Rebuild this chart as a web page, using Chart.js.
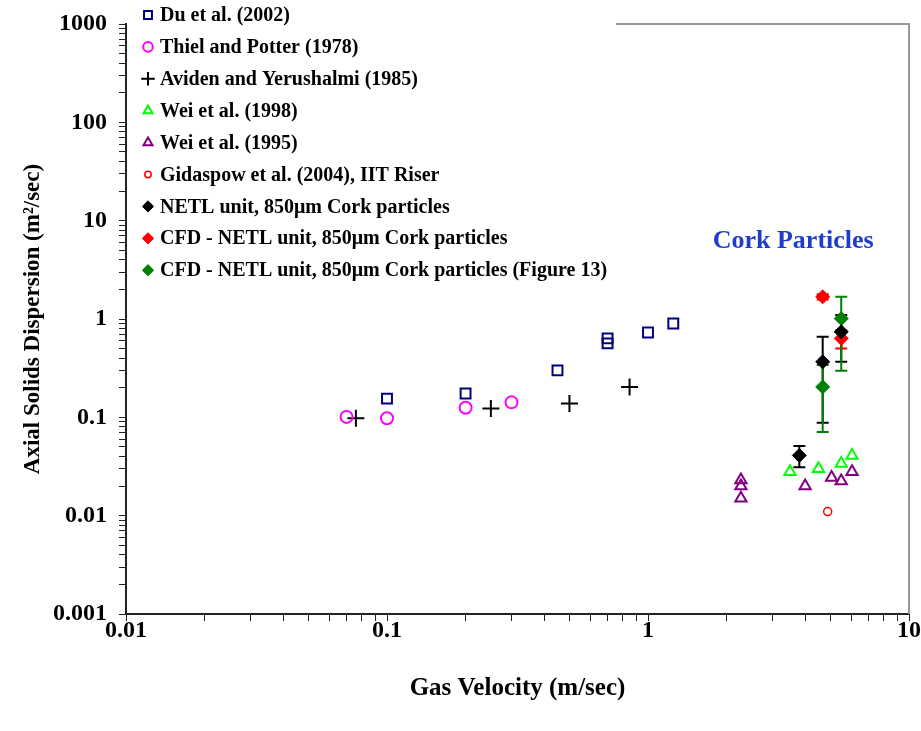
<!DOCTYPE html>
<html>
<head>
<meta charset="utf-8">
<title>Axial Solids Dispersion</title>
<script src="https://cdn.jsdelivr.net/npm/chart.js@4/dist/chart.umd.min.js"></script>
<style>
  html, body { margin: 0; padding: 0; background: #fff; }
</style>
</head>
<body>
<canvas id="myChart" width="921" height="731"></canvas>
<script>
/* data */
const duX = [0.1, 0.2, 0.45, 0.7, 0.7, 1.0, 1.25];
const duY = [0.155, 0.175, 0.30, 0.635, 0.565, 0.73, 0.90];

const thielX = [0.07, 0.1, 0.2, 0.3];
const thielY = [0.101, 0.098, 0.125, 0.142];

const avidenX = [0.076, 0.25, 0.5, 0.85];
const avidenY = [0.098, 0.123, 0.138, 0.204];

const wei98X = [3.5, 4.5, 5.5, 6.05];
const wei98Y = [0.028, 0.030, 0.034, 0.041];

const wei95X = [2.27, 2.27, 2.27, 4.0, 5.05, 5.5, 6.05];
const wei95Y = [0.023, 0.020, 0.015, 0.020, 0.0245, 0.0225, 0.028];

const gidaspowX = [4.88];
const gidaspowY = [0.011];

const netlX = [3.8, 4.67, 5.5];
const netlY = [0.041, 0.367, 0.74];
const netlHi = [0.051, 0.66, 1.10];
const netlLo = [0.031, 0.088, 0.367];

const cfdX = [4.67, 5.5];
const cfdY = [1.68, 0.635];
const cfdHi = [1.79, 0.77];
const cfdLo = [1.58, 0.50];

const cfd13X = [4.67, 5.5];
const cfd13Y = [0.204, 1.01];
const cfd13Hi = [0.34, 1.68];
const cfd13Lo = [0.071, 0.297];

/* axis ticks */
const xDecades = [0.01, 0.1, 1, 10];
const xTickLabels = ['0.01', '0.1', '1', '10'];
const yDecades = [0.001, 0.01, 0.1, 1, 10, 100, 1000];
const yTickLabels = ['0.001', '0.01', '0.1', '1', '10', '100', '1000'];
const minorSteps = [1, 2, 3, 4, 5, 6, 7, 8, 9];

const FONT = '"Liberation Serif", "Times New Roman", serif';

const toPoints = (xs, ys) => xs.map((x, i) => ({ x: x, y: ys[i] }));

/* ticks at 1..9 of every decade, label only on decades */
const logTicks = (decades) => {
  const out = [];
  decades.forEach((d, i) => {
    if (i === decades.length - 1) {
      out.push({ value: d });
      return;
    }
    minorSteps.forEach((m) => out.push({ value: +(d * m).toPrecision(6) }));
  });
  return out;
};
const labelFor = (decades, labels) => (value) => {
  for (let i = 0; i < decades.length; i++) {
    if (Math.abs(Math.log10(value) - Math.log10(decades[i])) < 1e-6) return labels[i];
  }
  return '';
};

const makeSet = (label, xs, ys, style, radius, color, fill, width, extra) =>
  Object.assign(
    {
      label: label,
      data: toPoints(xs, ys),
      showLine: false,
      pointStyle: style,
      pointRadius: radius,
      pointHoverRadius: radius,
      pointBorderColor: color,
      pointBackgroundColor: fill,
      pointBorderWidth: width,
      borderColor: color,
      backgroundColor: fill,
    },
    extra || {}
  );

const datasets = [
  makeSet('Du et al. (2002)', duX, duY, 'rect', 7, '#000080', 'rgba(0,0,0,0)', 2),
  makeSet('Thiel and Potter (1978)', thielX, thielY, 'circle', 6, '#ff00ff', 'rgba(0,0,0,0)', 2),
  makeSet('Aviden and Yerushalmi (1985)', avidenX, avidenY, 'cross', 8.5, '#000000', 'rgba(0,0,0,0)', 2),
  makeSet('Wei et al. (1998)', wei98X, wei98Y, 'triangle', 6.5, '#00ff00', 'rgba(0,0,0,0)', 2),
  makeSet('Wei et al. (1995)', wei95X, wei95Y, 'triangle', 6.5, '#800080', 'rgba(0,0,0,0)', 2),
  makeSet('Gidaspow et al. (2004), IIT Riser', gidaspowX, gidaspowY, 'circle', 4, '#ff0000', 'rgba(0,0,0,0)', 1.5),
  makeSet('NETL unit, 850μm Cork particles', netlX, netlY, 'rectRot', 7, '#000000', '#000000', 1,
    { errHi: netlHi, errLo: netlLo }),
  makeSet('CFD - NETL unit, 850μm Cork particles', cfdX, cfdY, 'rectRot', 7, '#ff0000', '#ff0000', 1,
    { errHi: cfdHi, errLo: cfdLo }),
  makeSet('CFD - NETL unit, 850μm Cork particles (Figure 13)', cfd13X, cfd13Y, 'rectRot', 7, '#008000', '#008000', 1,
    { errHi: cfd13Hi, errLo: cfd13Lo }),
];

/* vertical error bars, drawn under the markers */
const errorBars = {
  id: 'errorBars',
  beforeDatasetsDraw(chart) {
    const ctx = chart.ctx;
    const xs = chart.scales.x;
    const ys = chart.scales.y;
    ctx.save();
    chart.data.datasets.forEach((ds) => {
      if (!ds.errHi) return;
      ctx.strokeStyle = ds.pointBorderColor;
      ctx.lineWidth = 2;
      ds.data.forEach((p, i) => {
        const px = xs.getPixelForValue(p.x);
        const top = ys.getPixelForValue(ds.errHi[i]);
        const bot = ys.getPixelForValue(ds.errLo[i]);
        ctx.beginPath();
        ctx.moveTo(px, top);
        ctx.lineTo(px, bot);
        ctx.moveTo(px - 6, top);
        ctx.lineTo(px + 6, top);
        ctx.moveTo(px - 6, bot);
        ctx.lineTo(px + 6, bot);
        ctx.stroke();
      });
    });
    ctx.restore();
  },
};

/* frame on the right / top, legend and the label */
const decorations = {
  id: 'decorations',
  afterDraw(chart) {
    const ctx = chart.ctx;
    const area = chart.chartArea;
    ctx.save();
    ctx.strokeStyle = '#999999';
    ctx.lineWidth = 2;
    ctx.beginPath();
    ctx.moveTo(616, area.top);
    ctx.lineTo(area.right, area.top);
    ctx.lineTo(area.right, area.bottom);
    ctx.stroke();

    // legend
    ctx.font = 'bold 20px ' + FONT;
    ctx.textBaseline = 'middle';
    ctx.textAlign = 'left';
    chart.data.datasets.forEach((ds, i) => {
      const y = 15 + i * 31.9;
      ctx.strokeStyle = ds.pointBorderColor;
      ctx.fillStyle = ds.pointBackgroundColor;
      ctx.lineWidth = ds.pointBorderWidth;
      Chart.helpers.drawPoint(ctx, {
        pointStyle: ds.pointStyle,
        radius: ds.pointRadius * 0.8,
        rotation: 0,
        borderWidth: ds.pointBorderWidth,
      }, 148, y);
      ctx.fillStyle = '#000000';
      ctx.fillText(ds.label, 160, y + 1);
    });

    // annotation
    ctx.font = 'bold 26px ' + FONT;
    ctx.fillStyle = '#1f3dc8';
    ctx.textAlign = 'center';
    ctx.fillText('Cork Particles', chart.scales.x.getPixelForValue(3.6), chart.scales.y.getPixelForValue(6.2));
    ctx.restore();
  },
};

const chart = document.getElementById('myChart');
const myChart = new Chart(chart, {
  type: 'scatter',
  data: { datasets: datasets },
  plugins: [errorBars, decorations],
  options: {
    responsive: false,
    animation: false,
    devicePixelRatio: 1,
    layout: { padding: { left: 0, right: 12, top: 24, bottom: 0 } },
    plugins: {
      legend: { display: false },
      tooltip: { enabled: false },
    },
    scales: {
      x: {
        type: 'logarithmic',
        min: 0.01,
        max: 10,
        afterBuildTicks: (scale) => { scale.ticks = logTicks(xDecades); },
        afterFit: (scale) => {
          scale.height = 117;
          scale.paddingLeft = 0;
          scale.paddingRight = 0;
        },
        border: { display: true, color: '#222222', width: 2 },
        grid: { drawOnChartArea: false, drawTicks: true, tickLength: 7, tickColor: '#222222', lineWidth: 1 },
        ticks: {
          autoSkip: false,
          maxRotation: 0,
          padding: -2,
          color: '#000000',
          font: { family: FONT, size: 24, weight: 'bold', lineHeight: 1 },
          callback: labelFor(xDecades, xTickLabels),
        },
        title: {
          display: true,
          text: 'Gas Velocity (m/sec)',
          color: '#000000',
          font: { family: FONT, size: 25, weight: 'bold' },
          padding: { top: 0, bottom: 27 },
        },
      },
      y: {
        type: 'logarithmic',
        min: 0.001,
        max: 1000,
        afterBuildTicks: (scale) => { scale.ticks = logTicks(yDecades); },
        afterFit: (scale) => {
          scale.width = 126;
          scale.paddingTop = 0;
          scale.paddingBottom = 0;
        },
        border: { display: true, color: '#222222', width: 2 },
        grid: { drawOnChartArea: false, drawTicks: true, tickLength: 7, tickColor: '#222222', lineWidth: 1 },
        ticks: {
          autoSkip: false,
          padding: 12,
          color: '#000000',
          font: { family: FONT, size: 24, weight: 'bold' },
          callback: labelFor(yDecades, yTickLabels),
        },
        title: {
          display: true,
          text: 'Axial Solids Dispersion (m²/sec)',
          color: '#000000',
          font: { family: FONT, size: 23, weight: 'bold' },
          padding: { top: 19, bottom: 0 },
        },
      },
    },
  },
});
</script>
</body>
</html>
